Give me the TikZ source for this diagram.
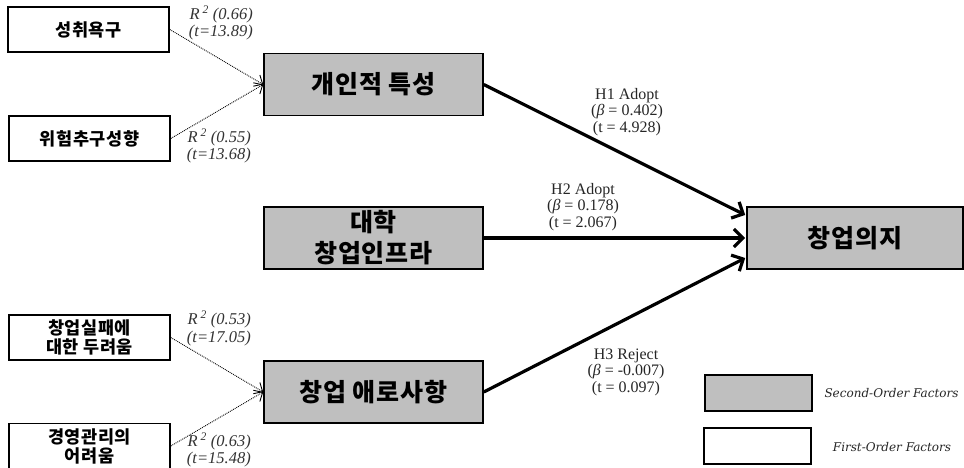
\documentclass[tikz,border=0pt]{standalone}
\usepackage{fontspec}
\setmainfont{Liberation Serif}
\newfontfamily\krsmall{Noto Sans CJK KR}[LetterSpace=3]
\newfontfamily\krbig{Noto Sans CJK KR}[LetterSpace=3]
\newfontfamily\legendfont{DejaVu Serif}
\usetikzlibrary{arrows.meta,calc}
\begin{document}
\begin{tikzpicture}[x=1pt,y=-1pt,
  firstbox/.style={draw,line width=1.6pt,fill=white,minimum width=161pt,minimum height=45pt,inner sep=0pt,align=center,font=\krsmall\bfseries\fontsize{17.5}{19}\selectfont},
  secondbox/.style={draw,line width=1.6pt,fill=black!25,minimum width=219pt,minimum height=62pt,inner sep=0pt,align=center,font=\krbig\bfseries\fontsize{25}{31}\selectfont},
  rlab/.style={font=\itshape\fontsize{16.5}{17.5}\selectfont,align=right,text=black!80,inner sep=0pt,anchor=east},
  hlab/.style={font=\fontsize{16}{16.5}\selectfont,align=center,inner sep=0pt,text=black!85},
  leglab/.style={font=\legendfont\itshape\fontsize{12}{13}\selectfont,inner sep=0pt,text=black!85},
  dotarrow/.style={densely dotted,line width=0.9pt,-{Straight Barb[length=7pt,width=13pt]}},
  patharrow/.style={line width=3.2pt,-{Straight Barb[length=9pt,width=18pt]}}]
\useasboundingbox (0,0) rectangle (964,467);

% first-order factors
\node[firstbox] (s1) at (88.5,29.5) {성취욕구};
\node[firstbox] (s2) at (89.5,138.5) {위험추구성향};
\node[firstbox] (s3) at (89.5,337.5) {창업실패에\\대한 두려움};
\node[firstbox] (s4) at (89.5,446) {경영관리의\\어려움};

% second-order factors
\node[secondbox] (g1) at (373.5,84.5) {개인적 특성};
\node[secondbox] (g2) at (373.5,238) {대학\\창업인프라};
\node[secondbox] (g3) at (373.5,392) {창업 애로사항};
\node[secondbox,minimum width=216pt] (dv) at (855,238) {창업의지};

% legend
\node[secondbox,minimum width=107pt,minimum height=36pt] (lg1) at (758.5,393) {};
\node[firstbox,minimum width=107pt,minimum height=36pt] (lg2) at (757.5,446) {};
\node[leglab] (lt1) at (891.5,393) {Second-Order Factors};
\node[leglab] (lt2) at (892,447) {First-Order Factors};

% dotted loadings
\draw[dotarrow] (s1.east) -- (g1.west);
\draw[dotarrow] (s2.east) -- (g1.west);
\draw[dotarrow] (s3.east) -- (g3.west);
\draw[dotarrow] (s4.east) -- (g3.west);

% structural paths
\draw[patharrow] (g1.east) -- ($(dv.west)+(-1,-23)$);
\draw[patharrow] (g2.east) -- ($(dv.west)+(-1,0)$);
\draw[patharrow] (g3.east) -- ($(dv.west)+(-1,20)$);

% loading labels
\node[rlab] (r1) at (253,23) {R\,\textsuperscript{2} (0.66)\\(t=13.89)};
\node[rlab] (r2) at (251,146) {R\,\textsuperscript{2} (0.55)\\(t=13.68)};
\node[rlab] (r3) at (251,328.5) {R\,\textsuperscript{2} (0.53)\\(t=17.05)};
\node[rlab] (r4) at (251,450) {R\,\textsuperscript{2} (0.63)\\(t=15.48)};

% path labels
\node[hlab] (h1) at (627,112) {H1 Adopt\\(\textit{β} = 0.402)\\(t = 4.928)};
\node[hlab] (h2) at (583,207) {H2 Adopt\\(\textit{β} = 0.178)\\(t = 2.067)};
\node[hlab] (h3) at (626,372) {H3 Reject\\(\textit{β} = -0.007)\\(t = 0.097)};
\end{tikzpicture}
\end{document}
